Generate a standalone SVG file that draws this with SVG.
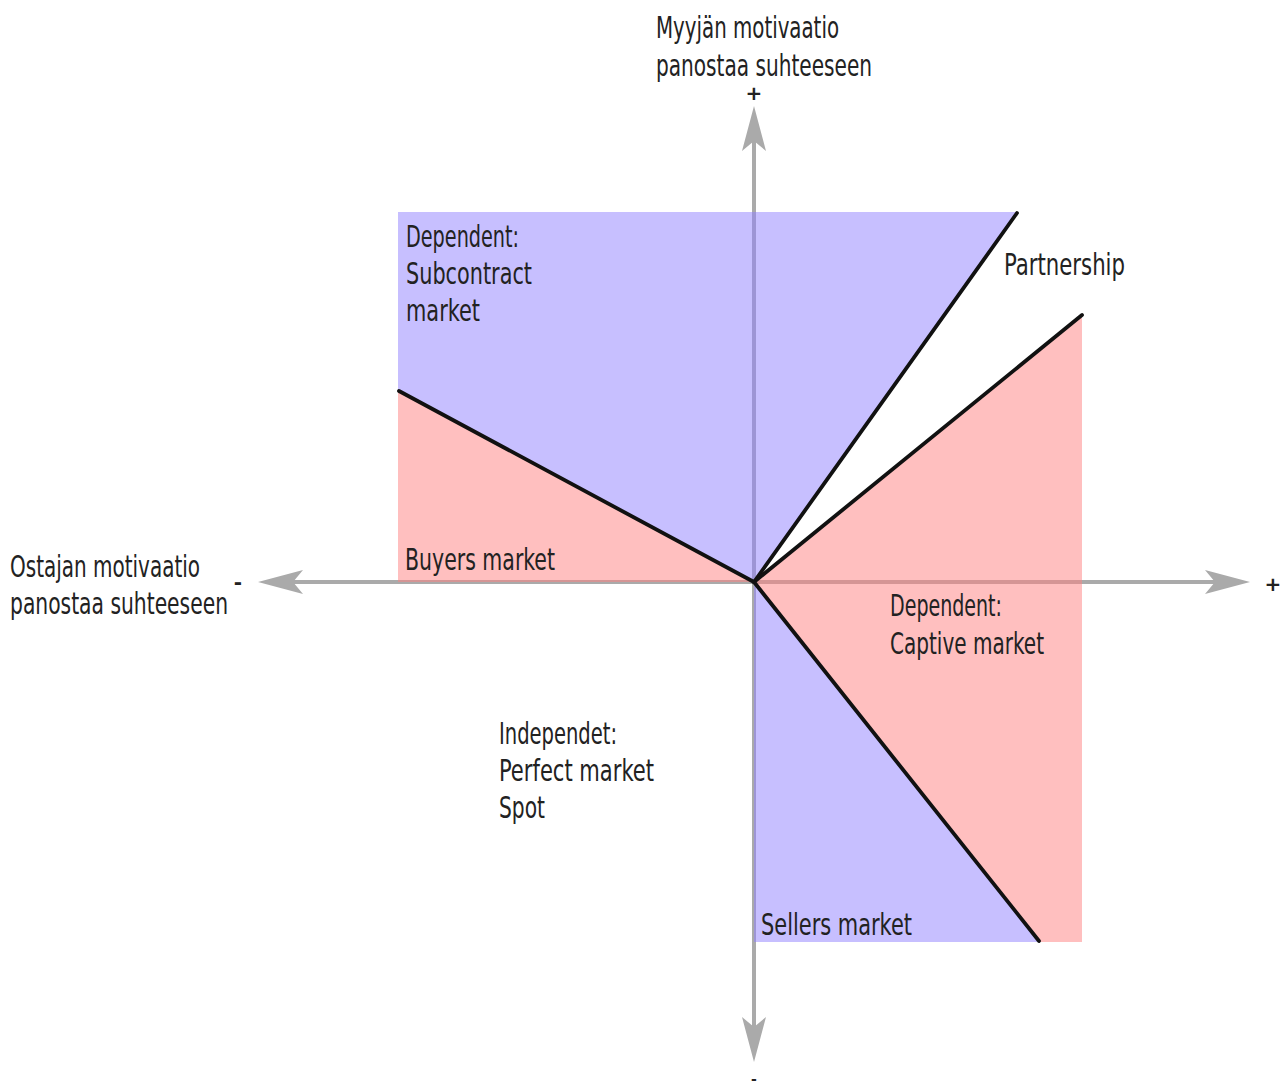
<svg xmlns="http://www.w3.org/2000/svg" xmlns:xlink="http://www.w3.org/1999/xlink" width="1280" height="1086" viewBox="0 0 1280 1086">
<style>
.t{font-family:"DejaVu Sans Condensed","DejaVu Sans",sans-serif;font-size:30px;fill:#222;}
.s{font-family:"DejaVu Sans",sans-serif;font-size:20px;fill:#222;font-weight:bold;text-anchor:middle;}
.ax{stroke:#aaaaaa;stroke-width:4;fill:none;}
.blue{fill:#9080ff;fill-opacity:0.5;}
.pink{fill:#ff8080;fill-opacity:0.5;}
.bl{stroke:#111;stroke-width:3.8;fill:none;stroke-linecap:round;}
</style>
<defs>
<path id="ah" d="M0,0 L-45,-12 L-35,0 L-45,12 Z" fill="#aaaaaa"/>
</defs>
<rect width="1280" height="1086" fill="#ffffff"/>
<g id="axes">
<line class="ax" x1="270" y1="582" x2="1230" y2="582"/>
<line class="ax" x1="754" y1="125" x2="754" y2="1045"/>
<use xlink:href="#ah" transform="translate(1250,582)"/>
<use xlink:href="#ah" transform="translate(258,582) rotate(180)"/>
<use xlink:href="#ah" transform="translate(754,106) rotate(-90)"/>
<use xlink:href="#ah" transform="translate(754,1062) rotate(90)"/>
</g>
<g id="regions">
<polygon id="subcontract" class="blue" points="398,212 1017,212 754,582 398,390"/>
<polygon id="buyers" class="pink" points="398,390 754,582 398,582"/>
<polygon id="captive" class="pink" points="754,582 1082,315 1082,942 1040,942"/>
<polygon id="sellers" class="blue" points="754,582 1040,942 754,942"/>
</g>
<g id="connectors">
<line class="bl" x1="754" y1="582" x2="1017" y2="213"/>
<line class="bl" x1="754" y1="582" x2="1082" y2="315"/>
<line class="bl" x1="754" y1="582" x2="399" y2="391"/>
<line class="bl" x1="754" y1="582" x2="1039" y2="941"/>
</g>
<g id="labels">
<text class="t" x="656" y="38" textLength="183" lengthAdjust="spacingAndGlyphs">Myyjän motivaatio</text>
<text class="t" x="656" y="76" textLength="216" lengthAdjust="spacingAndGlyphs">panostaa suhteeseen</text>
<text class="t" x="10" y="577" textLength="190" lengthAdjust="spacingAndGlyphs">Ostajan motivaatio</text>
<text class="t" x="10" y="614" textLength="218" lengthAdjust="spacingAndGlyphs">panostaa suhteeseen</text>
<text class="s" x="754" y="100">+</text>
<text class="s" x="754" y="1079" style="font-size:14px" dominant-baseline="central">-</text>
<text class="s" x="238" y="589">-</text>
<text class="s" x="1273" y="591">+</text>
</g>
<g id="node-subcontract-label">
<text class="t" x="406" y="247" textLength="113" lengthAdjust="spacingAndGlyphs">Dependent:</text>
<text class="t" x="406" y="284" textLength="126" lengthAdjust="spacingAndGlyphs">Subcontract</text>
<text class="t" x="406" y="321" textLength="74" lengthAdjust="spacingAndGlyphs">market</text>
</g>
<g id="node-partnership">
<text class="t" x="1004" y="275" textLength="121" lengthAdjust="spacingAndGlyphs">Partnership</text>
</g>
<g id="node-buyers">
<text class="t" x="405" y="570" textLength="150" lengthAdjust="spacingAndGlyphs">Buyers market</text>
</g>
<g id="node-captive">
<text class="t" x="890" y="616" textLength="112" lengthAdjust="spacingAndGlyphs">Dependent:</text>
<text class="t" x="890" y="654" textLength="154" lengthAdjust="spacingAndGlyphs">Captive market</text>
</g>
<g id="node-independent">
<text class="t" x="499" y="744" textLength="118" lengthAdjust="spacingAndGlyphs">Independet:</text>
<text class="t" x="499" y="781" textLength="155" lengthAdjust="spacingAndGlyphs">Perfect market</text>
<text class="t" x="499" y="818" textLength="46" lengthAdjust="spacingAndGlyphs">Spot</text>
</g>
<g id="node-sellers">
<text class="t" x="761" y="935" textLength="151" lengthAdjust="spacingAndGlyphs">Sellers market</text>
</g>
</svg>
